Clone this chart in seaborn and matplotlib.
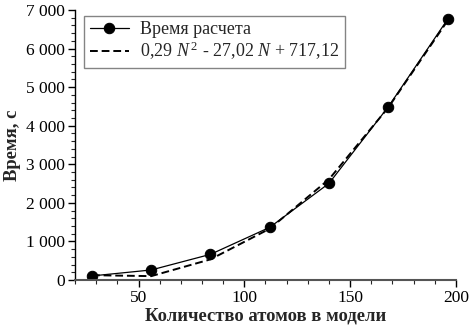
import matplotlib
matplotlib.use("Agg")
import matplotlib.pyplot as plt
from matplotlib.ticker import MultipleLocator, FuncFormatter
import seaborn as sns
import pandas as pd

# данные
atoms = [28, 56, 84, 112, 140, 168, 196]
time_calc = [105, 260, 665, 1365, 2505, 4490, 6755]
time_fit = [125, 100, 535, 1330, 2610, 4470, 6720]

label_calc = "Время расчета"
label_fit = r"0,29 $\mathit{N}^{\,2}$ - 27,02 $\mathit{N}$ + 717,12"

sns.set_style("ticks")
plt.rcParams['font.family'] = ['Liberation Serif', 'DejaVu Serif']
plt.rcParams['mathtext.fontset'] = 'custom'
plt.rcParams['mathtext.rm'] = 'Liberation Serif'
plt.rcParams['mathtext.it'] = 'Liberation Serif:italic'

df = pd.DataFrame({"N": atoms, "calc": time_calc, "fit": time_fit})

fig = plt.figure(figsize=(4.73, 3.34), dpi=100)
ax = fig.add_axes([0.1586, 0.1617, 0.8054, 0.8083])

sns.lineplot(data=df, x="N", y="calc", ax=ax, color="black", linewidth=0.9,
             marker="o", markersize=7.5, markeredgecolor="black", label=label_calc)
sns.lineplot(data=df, x="N", y="fit", ax=ax, color="black", linewidth=1.4,
             dashes=False, label=label_fit)
ax.lines[1].set_linestyle((0, (4, 2)))

ax.set_xlim(20, 200)
ax.set_ylim(0, 7000)
ax.xaxis.set_major_locator(MultipleLocator(50))
ax.xaxis.set_minor_locator(MultipleLocator(10))
ax.yaxis.set_major_locator(MultipleLocator(1000))
ax.yaxis.set_minor_locator(MultipleLocator(200))
ax.yaxis.set_major_formatter(FuncFormatter(lambda v, p: f"{v:,.0f}".replace(",", " ")))

ax.tick_params(which="major", direction="out", length=5, width=1, labelsize=12.5,
               colors="black", pad=2.5)
ax.tick_params(which="minor", direction="out", length=3, width=0.8)
for s in ["top", "right"]:
    ax.spines[s].set_visible(False)
ax.spines["left"].set_color("black")
ax.spines["left"].set_linewidth(1.0)
ax.spines["bottom"].set_color("#555555")
ax.spines["bottom"].set_linewidth(1.5)

ax.set_xlabel("Количество атомов в модели", fontsize=13.4, fontweight="bold", labelpad=1)
ax.set_ylabel("Время, с", fontsize=13.4, fontweight="bold", labelpad=3)

leg = ax.legend(loc="upper left", bbox_to_anchor=(0.024, 0.978), fontsize=13,
                frameon=True, fancybox=False, handlelength=2.2, borderpad=0.3,
                labelspacing=0.1, handletextpad=0.6, borderaxespad=0)
leg.get_frame().set_edgecolor("#666666")
leg.get_frame().set_linewidth(1.0)

fig.savefig("out.png", dpi=100)
